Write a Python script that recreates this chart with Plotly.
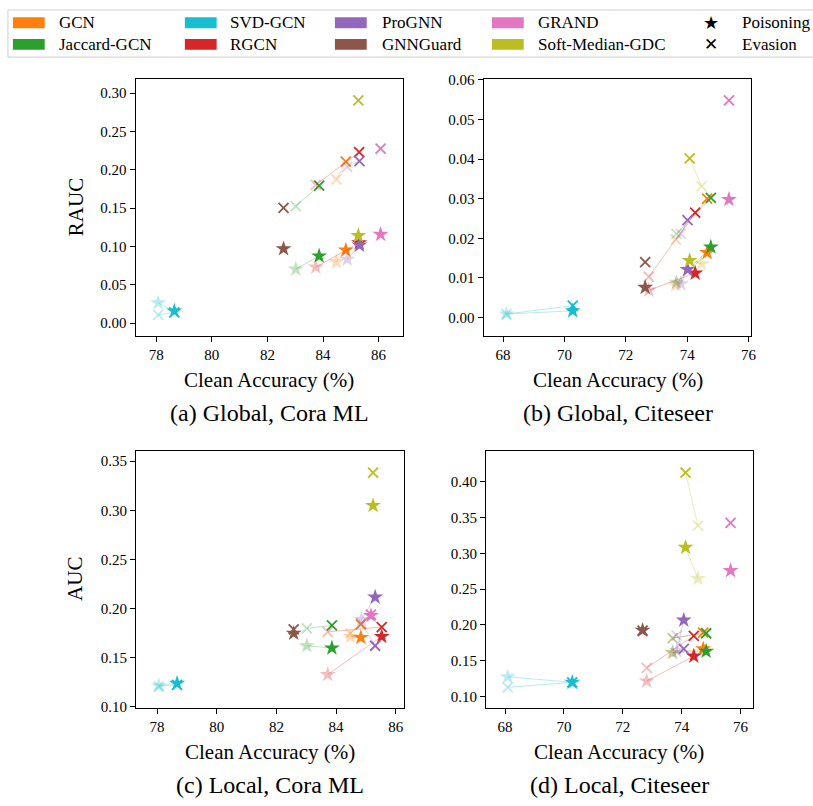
import plotly.graph_objects as go

W, H = 813, 806

MODELS = ["GCN", "Jaccard-GCN", "SVD-GCN", "RGCN", "ProGNN", "GNNGuard", "GRAND", "Soft-Median-GDC"]
COLORS = ["#ff7f0e", "#2ca02c", "#17becf", "#d62728", "#9467bd", "#8c564b", "#e377c2", "#bcbd22"]

# (a) Global, Cora ML
A_ACC = [84.82, 83.86, 78.65, 85.30, 85.31, 82.58, 86.07, 85.27]
A_ACC_F = [84.48, 83.02, 78.07, 83.74, 84.87, None, None, None]
A_POIS = [0.0953, 0.0876, 0.0158, 0.1047, 0.1017, 0.0970, 0.1158, 0.1141]
A_POIS_F = [0.0799, 0.0705, 0.0265, 0.0731, 0.0833, None, None, None]
A_EVA = [0.2107, 0.1795, 0.0140, 0.2230, 0.2115, 0.1504, 0.2278, 0.2906]
A_EVA_F = [0.1876, 0.1526, 0.0107, 0.1803, 0.2040, None, None, None]

# (b) Global, Citeseer
B_ACC = [74.65, 74.77, 70.27, 74.26, 74.01, 72.63, 75.36, 74.08]
B_ACC_F = [73.63, 73.65, 68.11, 72.75, 73.79, None, None, 74.47]
B_POIS = [0.0164, 0.0178, 0.0017, 0.0112, 0.0121, 0.0076, 0.0298, 0.0144]
B_POIS_F = [0.0083, 0.0089, 0.0009, 0.0069, 0.0085, None, None, 0.0136]
B_EVA = [0.0300, 0.0302, 0.0030, 0.0265, 0.0246, 0.0140, 0.0548, 0.0402]
B_EVA_F = [0.0197, 0.0211, 0.0009, 0.0103, 0.0211, None, None, 0.0331]

# (c) Local, Cora ML
C_ACC = [84.83, 83.86, 78.67, 85.53, 85.31, 82.58, 85.17, 85.24]
C_ACC_F = [84.48, 83.02, 78.06, 83.72, 84.85, None, None, None]
C_POIS = [0.1702, 0.1595, 0.1234, 0.1712, 0.2113, 0.1745, 0.1926, 0.3048]
C_POIS_F = [0.1712, 0.1618, 0.1210, 0.1324, 0.1886, None, None, None]
C_EVA = [0.1835, 0.1825, 0.1220, 0.1809, 0.1618, 0.1785, 0.1935, 0.3383]
C_EVA_F = [0.1745, 0.1795, 0.1205, 0.1759, 0.1850, None, None, None]

# (d) Local, Citeseer
D_ACC = [74.73, 74.83, 70.28, 74.41, 74.07, 72.67, 75.66, 74.13]
D_ACC_F = [73.68, 73.70, 68.09, 72.81, 73.83, None, None, 74.55]
D_POIS = [0.1664, 0.1632, 0.1197, 0.1563, 0.2067, 0.1925, 0.2759, 0.3084]
D_POIS_F = [0.1610, 0.1615, 0.1275, 0.1215, 0.1640, None, None, 0.2649]
D_EVA = [0.1893, 0.1884, 0.1197, 0.1847, 0.1664, 0.1920, 0.3428, 0.4129]
D_EVA_F = [0.1815, 0.1815, 0.1128, 0.1399, 0.1850, None, None, 0.3390]

PANEL_CAPTIONS = ["(a) Global, Cora ML", "(b) Global, Citeseer", "(c) Local, Cora ML", "(d) Local, Citeseer"]
Y_TITLES = ["RAUC", "", "AUC", ""]
X_TITLE = "Clean Accuracy (%)"

X_TICKS_CORA = [78, 80, 82, 84, 86]
X_TICKS_CITE = [68, 70, 72, 74, 76]
Y_TICKS_A = [0.00, 0.05, 0.10, 0.15, 0.20, 0.25, 0.30]
Y_TICKS_B = [0.00, 0.01, 0.02, 0.03, 0.04, 0.05, 0.06]
Y_TICKS_C = [0.10, 0.15, 0.20, 0.25, 0.30, 0.35]
Y_TICKS_D = [0.10, 0.15, 0.20, 0.25, 0.30, 0.35, 0.40]

SERIF = "Liberation Serif"


def rgba(hx, a):
    hx = hx.lstrip("#")
    r, g, b = int(hx[0:2], 16), int(hx[2:4], 16), int(hx[4:6], 16)
    return f"rgba({r},{g},{b},{a})"


def px_x(p):
    return p / W


def px_y(p):
    return 1 - p / H


panels = [
    (A_ACC, A_ACC_F, A_POIS, A_POIS_F, A_EVA, A_EVA_F),
    (B_ACC, B_ACC_F, B_POIS, B_POIS_F, B_EVA, B_EVA_F),
    (C_ACC, C_ACC_F, C_POIS, C_POIS_F, C_EVA, C_EVA_F),
    (D_ACC, D_ACC_F, D_POIS, D_POIS_F, D_EVA, D_EVA_F),
]

# pixel frames (left, right, top, bottom)
frames = [
    (136.5, 405.3, 73.3, 335.0),
    (486.7, 756.0, 73.3, 335.0),
    (137.0, 406.0, 451.7, 713.3),
    (489.0, 757.3, 451.7, 713.3),
]
x_ranges = [[77.26, 86.87], [67.37, 76.09], [77.30, 86.26], [67.35, 76.41]]
y_ranges = [[-0.017, 0.3185], [-0.0047, 0.0602], [0.0984, 0.3606], [0.084, 0.4434]]
x_ticks = [X_TICKS_CORA, X_TICKS_CITE, X_TICKS_CORA, X_TICKS_CITE]
y_ticks = [Y_TICKS_A, Y_TICKS_B, Y_TICKS_C, Y_TICKS_D]

fig = go.Figure()

STAR_SIZE = 12
X_SIZE = 10
X_LW = 1.8
FADE = 0.3

for k, (acc, acc_f, pois, pois_f, eva, eva_f) in enumerate(panels):
    xa = "x" if k == 0 else f"x{k+1}"
    ya = "y" if k == 0 else f"y{k+1}"
    for i, m in enumerate(MODELS):
        c = COLORS[i]
        cf = rgba(c, FADE)
        if acc_f[i] is not None:
            for ys, yf in ((pois, pois_f), (eva, eva_f)):
                fig.add_trace(go.Scatter(
                    x=[acc_f[i], acc[i]], y=[yf[i], ys[i]], mode="lines",
                    line=dict(color=cf, width=1), xaxis=xa, yaxis=ya,
                    hoverinfo="skip", showlegend=False))
            fig.add_trace(go.Scatter(
                x=[acc_f[i]], y=[pois_f[i]], mode="markers",
                marker=dict(symbol="star", size=STAR_SIZE, color=cf, line=dict(width=0)),
                xaxis=xa, yaxis=ya, showlegend=False, name=m))
            fig.add_trace(go.Scatter(
                x=[acc_f[i]], y=[eva_f[i]], mode="markers",
                marker=dict(symbol="x-thin", size=X_SIZE, color=cf, line=dict(width=X_LW, color=cf)),
                xaxis=xa, yaxis=ya, showlegend=False, name=m))
        fig.add_trace(go.Scatter(
            x=[acc[i]], y=[pois[i]], mode="markers",
            marker=dict(symbol="star", size=STAR_SIZE, color=c, line=dict(width=0)),
            xaxis=xa, yaxis=ya, showlegend=False, name=m))
        fig.add_trace(go.Scatter(
            x=[acc[i]], y=[eva[i]], mode="markers",
            marker=dict(symbol="x-thin", size=X_SIZE, color=c, line=dict(width=X_LW, color=c)),
            xaxis=xa, yaxis=ya, showlegend=False, name=m))

axis_common = dict(showline=True, mirror=True, linecolor="black", linewidth=1.2,
                   ticks="outside", ticklen=5, tickwidth=1.2, tickcolor="black",
                   showgrid=False, zeroline=False,
                   tickfont=dict(family=SERIF, size=15, color="black"))

layout = dict(width=W, height=H, margin=dict(l=0, r=0, t=0, b=0),
              plot_bgcolor="white", paper_bgcolor="white", showlegend=False,
              font=dict(family=SERIF, color="black"))

for k in range(4):
    l, r, t, b = frames[k]
    xk = "xaxis" if k == 0 else f"xaxis{k+1}"
    yk = "yaxis" if k == 0 else f"yaxis{k+1}"
    ya_id = "y" if k == 0 else f"y{k+1}"
    xa_id = "x" if k == 0 else f"x{k+1}"
    layout[xk] = dict(domain=[px_x(l), px_x(r)], range=x_ranges[k], anchor=ya_id,
                      tickvals=x_ticks[k], ticktext=[str(v) for v in x_ticks[k]], **axis_common)
    fmt = "{:.2f}"
    layout[yk] = dict(domain=[px_y(b), px_y(t)], range=y_ranges[k], anchor=xa_id,
                      tickvals=y_ticks[k], ticktext=[fmt.format(v) for v in y_ticks[k]], **axis_common)

fig.update_layout(**layout)

annotations = []
shapes = []
for k in range(4):
    l, r, t, b = frames[k]
    cx = (l + r) / 2
    annotations.append(dict(text=X_TITLE, x=px_x(cx), y=px_y(b + 45), xref="paper", yref="paper",
                            showarrow=False, xanchor="center", yanchor="middle",
                            font=dict(family=SERIF, size=21, color="black")))
    annotations.append(dict(text=PANEL_CAPTIONS[k], x=px_x(cx), y=px_y(b + 78), xref="paper", yref="paper",
                            showarrow=False, xanchor="center", yanchor="middle",
                            font=dict(family=SERIF, size=24, color="black")))
    if Y_TITLES[k]:
        annotations.append(dict(text=Y_TITLES[k], x=px_x(76), y=px_y((t + b) / 2), xref="paper", yref="paper",
                                showarrow=False, xanchor="center", yanchor="middle", textangle=-90,
                                font=dict(family=SERIF, size=21, color="black")))

# legend box
shapes.append(dict(type="rect", xref="paper", yref="paper",
                   x0=px_x(8), x1=px_x(830), y0=px_y(51), y1=px_y(3),
                   line=dict(color="#cfcfcf", width=1), fillcolor="white", layer="above"))

LEG_COL_PATCH = [13, 186, 337, 495]
LEG_COL_TEXT = [57, 229, 382, 539]
LEG_ROWS = [16, 38]
legend_order = [[0, 1], [2, 3], [4, 5], [6, 7]]
for col, pair in enumerate(legend_order):
    for row, mi in enumerate(pair):
        yc = LEG_ROWS[row]
        shapes.append(dict(type="rect", xref="paper", yref="paper",
                           x0=px_x(LEG_COL_PATCH[col]), x1=px_x(LEG_COL_PATCH[col] + 32),
                           y0=px_y(yc + 5.5), y1=px_y(yc - 5.5),
                           line=dict(width=0), fillcolor=COLORS[mi], layer="above"))
        annotations.append(dict(text=MODELS[mi], x=px_x(LEG_COL_TEXT[col]), y=px_y(yc),
                                xref="paper", yref="paper", showarrow=False,
                                xanchor="left", yanchor="middle",
                                font=dict(family=SERIF, size=17, color="black")))

annotations.append(dict(text="★", x=px_x(715), y=px_y(16), xref="paper", yref="paper",
                        showarrow=False, xanchor="center", yanchor="middle",
                        font=dict(family="DejaVu Sans", size=18, color="black")))
annotations.append(dict(text="✕", x=px_x(715), y=px_y(38), xref="paper", yref="paper",
                        showarrow=False, xanchor="center", yanchor="middle",
                        font=dict(family="DejaVu Sans", size=17, color="black")))
annotations.append(dict(text="Poisoning", x=px_x(745), y=px_y(16), xref="paper", yref="paper",
                        showarrow=False, xanchor="left", yanchor="middle",
                        font=dict(family=SERIF, size=17, color="black")))
annotations.append(dict(text="Evasion", x=px_x(745), y=px_y(38), xref="paper", yref="paper",
                        showarrow=False, xanchor="left", yanchor="middle",
                        font=dict(family=SERIF, size=17, color="black")))

fig.update_layout(annotations=annotations, shapes=shapes)
fig.write_html("out.html")
